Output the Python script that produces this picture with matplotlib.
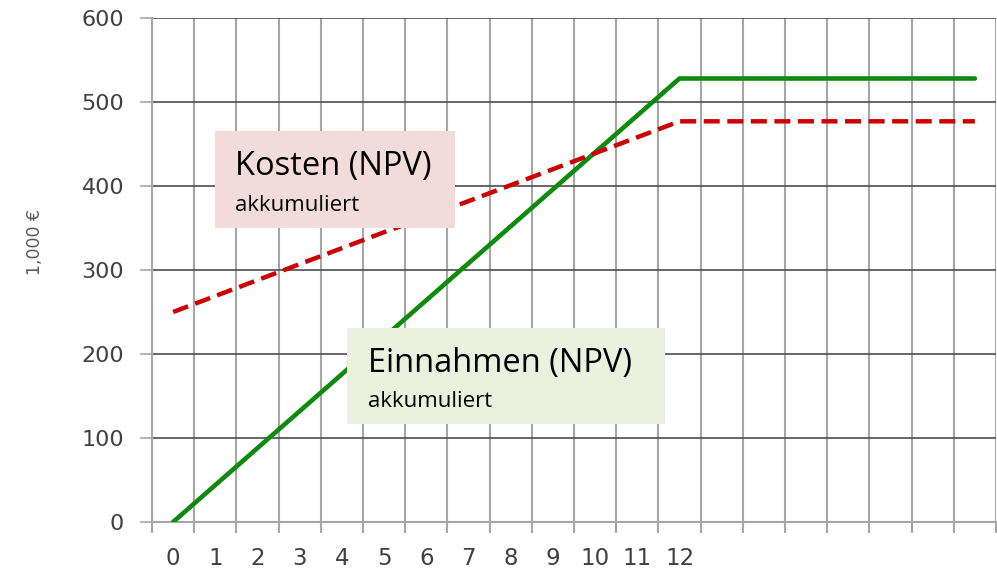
import matplotlib
matplotlib.use("Agg")
import matplotlib.pyplot as plt
from matplotlib.patches import Rectangle

# Data (1,000 EUR, cumulated NPV)
jahre = list(range(20))
jahr_labels = [str(j) for j in range(13)]
einnahmen = [0, 44, 88, 132, 176, 220, 264, 308, 352, 396, 440, 484, 528,
             528, 528, 528, 528, 528, 528, 528]
kosten = [250, 269, 288, 307, 326, 345, 363, 382, 401, 420, 439, 458, 477,
          477, 477, 477, 477, 477, 477, 477]
y_ticks = [0, 100, 200, 300, 400, 500, 600]

W, H = 997, 575
fig = plt.figure(figsize=(W / 100, H / 100), dpi=100)
ax = fig.add_axes([152 / W, 1 - 522 / H, (996 - 152) / W, (522 - 18) / H])

tick_col = '#404040'
grid_v = '#a6a6a6'
grid_h = '#4d4d4d'

# Lines
ax.plot(jahre, einnahmen, color='#0e8a0e', lw=3.3, solid_capstyle='round', zorder=3)
ax.plot(jahre, kosten, color='#cc0000', lw=3.2, dashes=(3.6, 1.7), zorder=3)

ax.set_xlim(-0.5, 19.5)
ax.set_ylim(0, 600)

# x axis: labels at categories, ticks/grid between them
ax.set_xticks(range(len(jahr_labels)))
ax.set_xticklabels(jahr_labels)
ax.set_xticks([j - 0.5 for j in range(21)], minor=True)
ax.tick_params(axis='x', which='major', length=0, pad=18, labelsize=16.5, labelcolor=tick_col)
ax.tick_params(axis='x', which='minor', length=8, width=1.5, color=grid_v)
ax.grid(True, axis='x', which='minor', color=grid_v, lw=1.5, zorder=0)

ax.set_yticks(y_ticks)
ax.tick_params(axis='y', length=9, width=1.2, color=grid_v, pad=11,
               labelsize=16, labelcolor=tick_col)
ax.grid(True, axis='y', which='major', color=grid_h, lw=1.2, zorder=0)

for s in ['top', 'right']:
    ax.spines[s].set_visible(False)
ax.spines['left'].set_color(grid_v)
ax.spines['left'].set_linewidth(1.5)
ax.spines['bottom'].set_color(grid_v)
ax.spines['bottom'].set_linewidth(1.5)
ax.set_axisbelow(True)

fig.text(35 / W, 1 - 242 / H, '1,000 €', rotation=90, ha='center', va='center',
         fontsize=12.5, color='#595959')

# Annotation boxes
fig.add_artist(Rectangle((215 / W, 1 - 228 / H), 240 / W, 97 / H,
                         transform=fig.transFigure, facecolor='#f2dcdb',
                         edgecolor='none', zorder=5))
fig.text(235 / W, 1 - 175 / H, 'Kosten (NPV)', fontsize=23.5, family='Open Sans',
         va='baseline', zorder=6)
fig.text(235 / W, 1 - 211 / H, 'akkumuliert', fontsize=16, family='Open Sans',
         va='baseline', zorder=6)

fig.add_artist(Rectangle((347 / W, 1 - 424 / H), 318 / W, 96 / H,
                         transform=fig.transFigure, facecolor='#ebf1de',
                         edgecolor='none', zorder=5))
fig.text(368 / W, 1 - 372 / H, 'Einnahmen (NPV)', fontsize=23.5, family='Open Sans',
         va='baseline', zorder=6)
fig.text(368 / W, 1 - 407 / H, 'akkumuliert', fontsize=16, family='Open Sans',
         va='baseline', zorder=6)

fig.savefig('out.png', dpi=100)
